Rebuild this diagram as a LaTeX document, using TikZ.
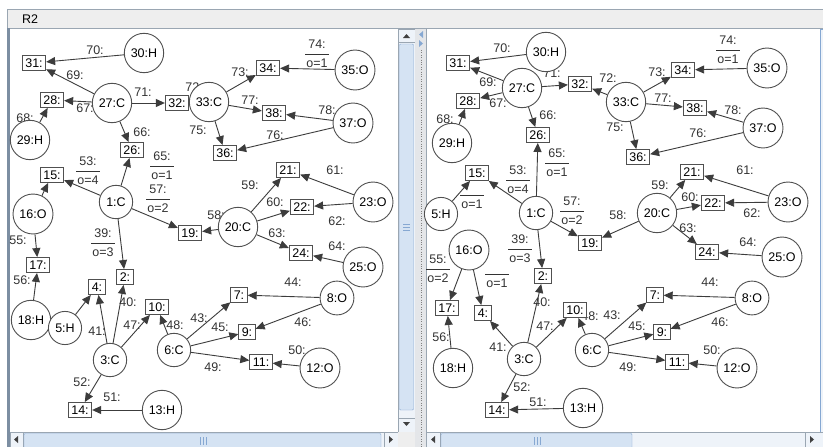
\documentclass[tikz,border=0pt]{standalone}
\usepackage{fontspec}
\setmainfont{Liberation Sans}
\usepackage{xcolor}
\usetikzlibrary{arrows.meta}
\pgfdeclarelayer{frame}
\pgfdeclarelayer{edges}
\pgfsetlayers{frame,edges,main}
\definecolor{barbg}{HTML}{EEEEEE}
\definecolor{bordergray}{HTML}{9AA6B2}
\definecolor{darkborder}{HTML}{7C8EA2}
\definecolor{track}{HTML}{EEF3F9}
\definecolor{thumb}{HTML}{D5E3F3}
\definecolor{thumbedge}{HTML}{86A8D2}
\definecolor{divbg}{HTML}{E4E6E9}
\definecolor{linegray}{HTML}{505050}
\definecolor{edgegray}{HTML}{3C3C3C}
\definecolor{textgray}{HTML}{333333}
\setlength{\arrayrulewidth}{0.9pt}
\newcommand{\ofrac}[2]{\renewcommand{\arraystretch}{1.3}\begin{tabular}{@{\hspace{1pt}}c@{\hspace{1pt}}}#1\\\hline #2\end{tabular}}

\begin{document}
\begin{tikzpicture}[x=1pt, y=-1pt, font=\fontsize{12.5}{14}\selectfont,
    atom/.style={circle, draw=linegray, fill=white, inner sep=4.4pt, line width=0.9pt},
    slot/.style={rectangle, draw=linegray, fill=white, inner xsep=3pt, inner ysep=2.5pt, minimum height=15pt, line width=0.9pt},
    arr/.style={-{Triangle[length=9pt,width=8pt]}, draw=edgegray, line width=0.9pt},
    lab/.style={inner sep=0pt, text=textgray}]
    \useasboundingbox (0,0) rectangle (823,447);

    % Window frame
    \begin{pgfonlayer}{frame}
    \fill[white] (0,0) rectangle (823,447);
    \filldraw[fill=barbg, draw=bordergray] (7,9) rectangle (830,28);
    \node[anchor=west, inner sep=0pt] (title) at (22,19) {R2};
    \fill[white] (10,29) rectangle (398,432);
    \draw[darkborder, line width=3pt] (8.5,28) -- (8.5,447);
    % left scroll bars
    \filldraw[fill=track, draw=bordergray] (398,29) rectangle (415,432);
    \draw[bordergray] (398,42) -- (415,42) (398,418) -- (415,418);
    \filldraw[fill=thumb, draw=thumbedge, rounded corners=1pt] (399.5,44) rectangle (413.5,410);
    \draw[thumbedge] (403,224) -- (410,224) (403,227) -- (410,227) (403,230) -- (410,230);
    \fill[black!75] (403,38) -- (410,38) -- (406.5,34) -- cycle;
    \fill[black!75] (403,422) -- (410,422) -- (406.5,426) -- cycle;
    \filldraw[fill=track, draw=bordergray] (10,432) rectangle (398,447);
    \draw[bordergray] (23,432) -- (23,447) (384,432) -- (384,447);
    \filldraw[fill=thumb, draw=thumbedge, rounded corners=1pt] (24,433.5) rectangle (381,448);
    \draw[thumbedge] (200,437) -- (200,445) (203,437) -- (203,445) (206,437) -- (206,445);
    \fill[black!75] (18,436) -- (18,443) -- (14,439.5) -- cycle;
    \fill[black!75] (389,436) -- (389,443) -- (393,439.5) -- cycle;
    \fill[barbg] (398,432) rectangle (415,447);
    % divider
    \fill[divbg] (415,29) rectangle (426,447);
    \draw[gray, dotted] (421,50) -- (421,447);
    \fill[thumbedge] (423,31) -- (423,38) -- (419,34.5) -- cycle;
    \fill[thumbedge] (419,40) -- (419,47) -- (423,43.5) -- cycle;
    % right panel
    \fill[white] (426,29) rectangle (820,432);
    \draw[bordergray] (426,29) -- (426,447);
    \filldraw[fill=track, draw=thumbedge] (820,29) rectangle (826,432);
    \filldraw[fill=track, draw=bordergray] (426,432) rectangle (830,447);
    \draw[bordergray] (440,432) -- (440,447) (805,432) -- (805,447);
    \filldraw[fill=thumb, draw=thumbedge, rounded corners=1pt] (441,433.5) rectangle (632,448);
    \draw[thumbedge] (534,437) -- (534,445) (537,437) -- (537,445) (540,437) -- (540,445);
    \fill[black!75] (435,436) -- (435,443) -- (431,439.5) -- cycle;
    \fill[black!75] (810,436) -- (810,443) -- (814,439.5) -- cycle;
    \end{pgfonlayer}

    % Left graph nodes
    \path
    (144,53) node[atom] (L30) {30:H}
    (112,103) node[atom] (L27) {27:C}
    (30,140) node[atom] (L29) {29:H}
    (209,102) node[atom] (L33) {33:C}
    (355,70) node[atom] (L35) {35:O}
    (353,123) node[atom] (L37) {37:O}
    (116,202) node[atom] (L1) {1:C}
    (33,214) node[atom] (L16) {16:O}
    (238,227) node[atom] (L20) {20:C}
    (373,202) node[atom] (L23) {23:O}
    (363,267) node[atom] (L25) {25:O}
    (31,320) node[atom] (L18) {18:H}
    (65,328) node[atom] (L5) {5:H}
    (110,360) node[atom] (L3) {3:C}
    (174,350) node[atom] (L6) {6:C}
    (337,298) node[atom] (L8) {8:O}
    (320,368) node[atom] (L12) {12:O}
    (162,410) node[atom] (L13) {13:H}
    ;
    \path
    (34,63) node[slot] (L31) {31:}
    (52,100) node[slot] (L28) {28:}
    (177,103) node[slot] (L32) {32:}
    (132,150) node[slot] (L26) {26:}
    (52,175) node[slot] (L15) {15:}
    (268,68) node[slot] (L34) {34:}
    (274,113) node[slot] (L38) {38:}
    (225,153) node[slot] (L36) {36:}
    (288,170) node[slot] (L21) {21:}
    (302,207) node[slot] (L22) {22:}
    (190,233) node[slot] (L19) {19:}
    (301,253) node[slot] (L24) {24:}
    (38,265) node[slot] (L17) {17:}
    (97,287) node[slot] (L4) {4:}
    (125,277) node[slot] (L2) {2:}
    (157,307) node[slot] (L10) {10:}
    (239,295) node[slot] (L7) {7:}
    (247,332) node[slot] (L9) {9:}
    (261,362) node[slot] (L11) {11:}
    (80,410) node[slot] (L14) {14:}
    ;

    % Right graph nodes
    \path
    (546,52) node[atom] (R30) {30:H}
    (522,88) node[atom] (R27) {27:C}
    (452,143) node[atom] (R29) {29:H}
    (626,102) node[atom] (R33) {33:C}
    (767,68) node[atom] (R35) {35:O}
    (763,128) node[atom] (R37) {37:O}
    (441,214) node[atom] (R5) {5:H}
    (536,213) node[atom] (R1) {1:C}
    (657,213) node[atom] (R20) {20:C}
    (788,202) node[atom] (R23) {23:O}
    (782,257) node[atom] (R25) {25:O}
    (469,250) node[atom] (R16) {16:O}
    (453,368) node[atom] (R18) {18:H}
    (524,359) node[atom] (R3) {3:C}
    (592,350) node[atom] (R6) {6:C}
    (752,298) node[atom] (R8) {8:O}
    (737,368) node[atom] (R12) {12:O}
    (583,408) node[atom] (R13) {13:H}
    ;
    \path
    (458,63) node[slot] (R31) {31:}
    (580,84) node[slot] (R32) {32:}
    (468,101) node[slot] (R28) {28:}
    (538,135) node[slot] (R26) {26:}
    (477,173) node[slot] (R15) {15:}
    (683,70) node[slot] (R34) {34:}
    (695,108) node[slot] (R38) {38:}
    (638,157) node[slot] (R36) {36:}
    (692,172) node[slot] (R21) {21:}
    (713,203) node[slot] (R22) {22:}
    (590,243) node[slot] (R19) {19:}
    (707,252) node[slot] (R24) {24:}
    (447,308) node[slot] (R17) {17:}
    (483,313) node[slot] (R4) {4:}
    (543,276) node[slot] (R2) {2:}
    (575,310) node[slot] (R10) {10:}
    (655,295) node[slot] (R7) {7:}
    (662,332) node[slot] (R9) {9:}
    (677,362) node[slot] (R11) {11:}
    (497,410) node[slot] (R14) {14:}
    ;

    \begin{pgfonlayer}{edges}
    % Left graph edges
    \draw[arr] (L30) -- (L31);
    \draw[arr] (L27) -- (L31);
    \draw[arr] (L27) -- (L28);
    \draw[arr] (L27) -- (L32);
    \draw[arr] (L27) -- (L26);
    \draw[arr] (L29) -- (L28);
    \draw[arr] (L33) -- (L32);
    \draw[arr] (L33) -- (L34);
    \draw[arr] (L33) -- (L38);
    \draw[arr] (L33) -- (L36);
    \draw[arr] (L35) -- (L34);
    \draw[arr] (L37) -- (L38);
    \draw[arr] (L37) -- (L36);
    \draw[arr] (L1) -- (L15);
    \draw[arr] (L1) -- (L26);
    \draw[arr] (L1) -- (L19);
    \draw[arr] (L1) -- (L2);
    \draw[arr] (L16) -- (L15);
    \draw[arr] (L16) -- (L17);
    \draw[arr] (L18) -- (L17);
    \draw[arr] (L20) -- (L19);
    \draw[arr] (L20) -- (L21);
    \draw[arr] (L20) -- (L22);
    \draw[arr] (L20) -- (L24);
    \draw[arr] (L23) -- (L21);
    \draw[arr] (L23) -- (L22);
    \draw[arr] (L25) -- (L24);
    \draw[arr] (L5) -- (L4);
    \draw[arr] (L3) -- (L4);
    \draw[arr] (L3) -- (L2);
    \draw[arr] (L3) -- (L10);
    \draw[arr] (L3) -- (L14);
    \draw[arr] (L6) -- (L10);
    \draw[arr] (L6) -- (L7);
    \draw[arr] (L6) -- (L9);
    \draw[arr] (L6) -- (L11);
    \draw[arr] (L8) -- (L7);
    \draw[arr] (L8) -- (L9);
    \draw[arr] (L12) -- (L11);
    \draw[arr] (L13) -- (L14);

    % Left graph labels
    \path
    (95,50) node[lab] (l70) {70:}
    (75,75) node[lab] (l69) {69:}
    (85,108) node[lab] (l67) {67:}
    (143,92) node[lab] (l71) {71:}
    (194,87) node[lab] (l72) {72:}
    (25,118) node[lab] (l68) {68:}
    (142,132) node[lab] (l66) {66:}
    (198,130) node[lab] (l75) {75:}
    (162,166) node[lab] (l65) {\ofrac{65:}{o=1}}
    (88,171) node[lab] (l53) {\ofrac{53:}{o=4}}
    (158,199) node[lab] (l57) {\ofrac{57:}{o=2}}
    (317,54) node[lab] (l74) {\ofrac{74:}{o=1}}
    (240,72) node[lab] (l73) {73:}
    (250,100) node[lab] (l77) {77:}
    (327,110) node[lab] (l78) {78:}
    (275,135) node[lab] (l76) {76:}
    (335,170) node[lab] (l61) {61:}
    (250,185) node[lab] (l59) {59:}
    (275,202) node[lab] (l60) {60:}
    (337,221) node[lab] (l62) {62:}
    (216,215) node[lab] (l58) {58:}
    (277,233) node[lab] (l63) {63:}
    (337,246) node[lab] (l64) {64:}
    (293,282) node[lab] (l44) {44:}
    (303,322) node[lab] (l46) {46:}
    (220,327) node[lab] (l45) {45:}
    (297,350) node[lab] (l50) {50:}
    (213,367) node[lab] (l49) {49:}
    (199,318) node[lab] (l43) {43:}
    (18,240) node[lab] (l55) {55:}
    (22,280) node[lab] (l56) {56:}
    (103,243) node[lab] (l39) {\ofrac{39:}{o=3}}
    (128,302) node[lab] (l40) {40:}
    (97,331) node[lab] (l41) {41:}
    (132,325) node[lab] (l47) {47:}
    (175,325) node[lab] (l48) {48:}
    (82,382) node[lab] (l52) {52:}
    (112,397) node[lab] (l51) {51:}
    ;

    % Right graph edges
    \draw[arr] (R30) -- (R31);
    \draw[arr] (R27) -- (R31);
    \draw[arr] (R27) -- (R28);
    \draw[arr] (R27) -- (R32);
    \draw[arr] (R27) -- (R26);
    \draw[arr] (R29) -- (R28);
    \draw[arr] (R33) -- (R32);
    \draw[arr] (R33) -- (R34);
    \draw[arr] (R33) -- (R38);
    \draw[arr] (R33) -- (R36);
    \draw[arr] (R35) -- (R34);
    \draw[arr] (R37) -- (R38);
    \draw[arr] (R37) -- (R36);
    \draw[arr] (R1) -- (R15);
    \draw[arr] (R1) -- (R26);
    \draw[arr] (R1) -- (R19);
    \draw[arr] (R1) -- (R2);
    \draw[arr] (R5) -- (R15);
    \draw[arr] (R20) -- (R19);
    \draw[arr] (R20) -- (R21);
    \draw[arr] (R20) -- (R22);
    \draw[arr] (R20) -- (R24);
    \draw[arr] (R23) -- (R21);
    \draw[arr] (R23) -- (R22);
    \draw[arr] (R25) -- (R24);
    \draw[arr] (R16) -- (R17);
    \draw[arr] (R16) -- (R4);
    \draw[arr] (R18) -- (R17);
    \draw[arr] (R3) -- (R4);
    \draw[arr] (R3) -- (R2);
    \draw[arr] (R3) -- (R10);
    \draw[arr] (R3) -- (R14);
    \draw[arr] (R6) -- (R10);
    \draw[arr] (R6) -- (R7);
    \draw[arr] (R6) -- (R9);
    \draw[arr] (R6) -- (R11);
    \draw[arr] (R8) -- (R7);
    \draw[arr] (R8) -- (R9);
    \draw[arr] (R12) -- (R11);
    \draw[arr] (R13) -- (R14);

    % Right graph labels
    \path
    (502,48) node[lab] (r70) {70:}
    (488,82) node[lab] (r69) {69:}
    (498,103) node[lab] (r67) {67:}
    (552,73) node[lab] (r71) {71:}
    (608,78) node[lab] (r72) {72:}
    (445,119) node[lab] (r68) {68:}
    (548,115) node[lab] (r66) {66:}
    (557,163) node[lab] (r65) {\ofrac{65:}{o=1}}
    (518,180) node[lab] (r53) {\ofrac{53:}{o=4}}
    (472,195) node[lab] (r54) {\ofrac{}{o=1}}
    (572,211) node[lab] (r57) {\ofrac{57:}{o=2}}
    (520,249) node[lab] (r39) {\ofrac{39:}{o=3}}
    (438,269) node[lab] (r55) {\ofrac{55:}{o=2}}
    (497,274) node[lab] (r42) {\ofrac{}{o=1}}
    (728,50) node[lab] (r74) {\ofrac{74:}{o=1}}
    (657,72) node[lab] (r73) {73:}
    (663,98) node[lab] (r77) {77:}
    (733,110) node[lab] (r78) {78:}
    (698,133) node[lab] (r76) {76:}
    (615,127) node[lab] (r75) {75:}
    (745,170) node[lab] (r61) {61:}
    (660,185) node[lab] (r59) {59:}
    (690,197) node[lab] (r60) {60:}
    (752,213) node[lab] (r62) {62:}
    (618,215) node[lab] (r58) {58:}
    (688,228) node[lab] (r63) {63:}
    (748,242) node[lab] (r64) {64:}
    (710,282) node[lab] (r44) {44:}
    (720,322) node[lab] (r46) {46:}
    (637,326) node[lab] (r45) {45:}
    (712,350) node[lab] (r50) {50:}
    (628,367) node[lab] (r49) {49:}
    (612,315) node[lab] (r43) {43:}
    (590,316) node[lab] (r48) {48:}
    (441,337) node[lab] (r56) {56:}
    (542,302) node[lab] (r40) {40:}
    (545,326) node[lab] (r47) {47:}
    (498,347) node[lab] (r41) {41:}
    (522,387) node[lab] (r52) {52:}
    (538,402) node[lab] (r51) {51:}
    ;
    \end{pgfonlayer}

\end{tikzpicture}
\end{document}
